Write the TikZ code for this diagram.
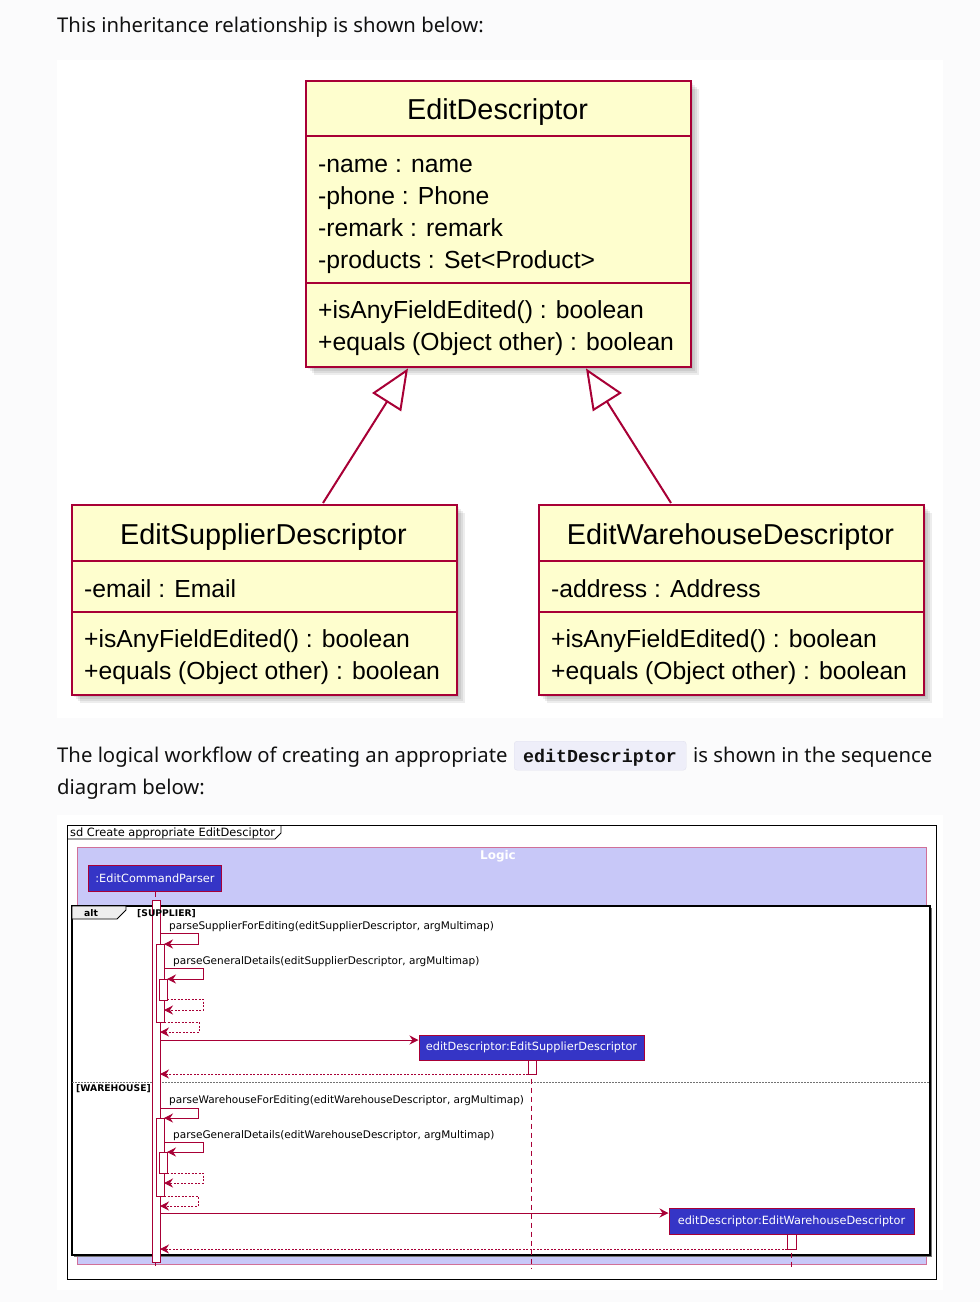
\documentclass[tikz,border=0pt]{standalone}
\usepackage{fontspec}
\setmainfont{Liberation Sans}
\newfontfamily\bodyfont{Noto Sans}
\newfontfamily\umlfont{Liberation Sans}
\newfontfamily\seqfont{DejaVu Sans}
\newfontfamily\codefont{Liberation Mono}
\usetikzlibrary{arrows.meta,calc}
\definecolor{crim}{HTML}{A80036}
\definecolor{classfill}{HTML}{FEFECE}
\definecolor{pagebg}{HTML}{FBFBFC}
\definecolor{partfill}{HTML}{3535C6}
\definecolor{logicfill}{HTML}{C8C8F8}
\definecolor{logicborder}{HTML}{D07098}
\definecolor{codebg}{HTML}{EEEEF9}
\definecolor{codeborder}{HTML}{E2E2EE}
\definecolor{alttab}{HTML}{EEEEEE}
\definecolor{bodytxt}{HTML}{111111}
\begin{document}
\begin{tikzpicture}[x=1pt,y=-1pt,
  bodytext/.style={anchor=base west,inner sep=0pt,text=bodytxt,font=\bodyfont\fontsize{20.3}{24}\selectfont},
  classbox/.style={draw=crim,line width=2.4pt,fill=classfill,anchor=north west,inner sep=0pt},
  umlsep/.style={draw=crim,line width=2.4pt},
  ctitle/.style={anchor=base,inner sep=0pt,font=\umlfont\fontsize{28.8}{30}\selectfont},
  cmember/.style={anchor=base west,inner sep=0pt,font=\umlfont\fontsize{24.7}{26}\selectfont},
  inherit/.style={draw=crim,line width=2pt,-{Triangle[length=40pt,width=34pt,fill=white,line join=miter]}},
  seqtxt/.style={anchor=base west,inner sep=0pt,font=\seqfont\fontsize{10.5}{12}\selectfont},
  seqbold/.style={anchor=base west,inner sep=0pt,font=\seqfont\bfseries\fontsize{9.2}{11}\selectfont},
  participant/.style={draw=crim,line width=1pt,fill=partfill,text=white,inner sep=0pt,font=\seqfont\fontsize{11.3}{13}\selectfont},
  lifeline/.style={draw=crim,line width=0.9pt,dash pattern=on 5pt off 4pt},
  actbar/.style={draw=crim,line width=0.9pt,fill=white},
  msg/.style={draw=crim,line width=0.9pt,-{Stealth[length=9pt,width=9pt,inset=3pt]}},
  ret/.style={draw=crim,line width=0.9pt,dash pattern=on 2pt off 1.5pt,-{Stealth[length=9pt,width=9pt,inset=3pt]}}
]
\useasboundingbox (0,0) rectangle (980,1302);
\fill[pagebg] (0,0) rectangle (980,1302);
\fill[white] (57,60) rectangle (943,718);

% ---------- paragraph 1
\node[bodytext] (p1) at (57,32) {This inheritance relationship is shown below:};

% ---------- class shadows
\foreach \d in {3,5,7,9}{
  \fill[black,opacity=0.07] (305+\d,80+\d) rectangle (690+\d,366+\d);
  \fill[black,opacity=0.07] (71+\d,504+\d) rectangle (456+\d,694+\d);
  \fill[black,opacity=0.07] (538+\d,504+\d) rectangle (923+\d,694+\d);
}

% ---------- EditDescriptor
\node[classbox,minimum width=385pt,minimum height=286pt] (ed) at (305,80) {};
\draw[umlsep] (305,136) -- (690,136);
\draw[umlsep] (305,283) -- (690,283);
\node[ctitle] (ed-t) at (497.5,119) {EditDescriptor};
\node[cmember] (ed-a1) at (318,172) {-name : name};
\node[cmember] (ed-a2) at (318,204) {-phone : Phone};
\node[cmember] (ed-a3) at (318,236) {-remark : remark};
\node[cmember] (ed-a4) at (318,268) {-products : Set<Product>};
\node[cmember] (ed-m1) at (318,318) {+isAnyFieldEdited() : boolean};
\node[cmember] (ed-m2) at (318,350) {+equals (Object other) : boolean};

% ---------- EditSupplierDescriptor
\node[classbox,minimum width=385pt,minimum height=190pt] (esd) at (71,504) {};
\draw[umlsep] (71,561) -- (456,561);
\draw[umlsep] (71,612) -- (456,612);
\node[ctitle] (esd-t) at (263.5,544) {EditSupplierDescriptor};
\node[cmember] (esd-a1) at (84,597) {-email : Email};
\node[cmember] (esd-m1) at (84,647) {+isAnyFieldEdited() : boolean};
\node[cmember] (esd-m2) at (84,679) {+equals (Object other) : boolean};

% ---------- EditWarehouseDescriptor
\node[classbox,minimum width=385pt,minimum height=190pt] (ewd) at (538,504) {};
\draw[umlsep] (538,561) -- (923,561);
\draw[umlsep] (538,612) -- (923,612);
\node[ctitle] (ewd-t) at (730.5,544) {EditWarehouseDescriptor};
\node[cmember] (ewd-a1) at (551,597) {-address : Address};
\node[cmember] (ewd-m1) at (551,647) {+isAnyFieldEdited() : boolean};
\node[cmember] (ewd-m2) at (551,679) {+equals (Object other) : boolean};

% ---------- inheritance arrows
\coordinate (inA1) at ($(esd.north west)+(252,-1)$);
\coordinate (inA2) at ($(ed.south west)+(103,0)$);
\coordinate (inB1) at ($(ewd.north west)+(133,-1)$);
\coordinate (inB2) at ($(ed.south west)+(281,0)$);
\draw[inherit] (inA1) -- (inA2);
\draw[inherit] (inB1) -- (inB2);

% ---------- paragraph 2
\node[draw=codeborder,fill=codebg,rounded corners=3pt,minimum width=172pt,minimum height=29pt,anchor=north west,inner sep=0pt] (codebox) at (514,741) {};
\node[anchor=base,inner sep=0pt,font=\codefont\bfseries\fontsize{18.3}{20}\selectfont,text=bodytxt] (code) at (600,762) {editDescriptor};
\node[bodytext] (p2a) at (57,762) {The logical workflow of creating an appropriate};
\node[bodytext] (p2b) at (693,762) {is shown in the sequence};
\node[bodytext] (p2c) at (57,794) {diagram below:};

% ---------- sequence diagram
\fill[white] (57,815) rectangle (943,1290);
\draw[black,line width=0.8pt,fill=white] (67,825) rectangle (936,1279);
\draw[black,line width=0.8pt] (67,839) -- (275,839) -- (281,833) -- (281,825);
\node[seqtxt,font=\seqfont\fontsize{11.4}{13}\selectfont] (sdtitle) at (70,836.5) {sd Create appropriate EditDesciptor};

\draw[draw=logicborder,line width=0.8pt,fill=logicfill] (77,847) rectangle (926,1264);
\node[anchor=base,inner sep=0pt,text=white,font=\seqfont\bfseries\fontsize{12}{13}\selectfont] (logic) at (498,859) {Logic};

% alt frame
\fill[black!55] (74,908) rectangle (932,1257);
\draw[black,line width=1.6pt,fill=white] (72,906) rectangle (930,1255);
\draw[black,line width=0.8pt,fill=alttab] (72,906) -- (126,906) -- (126,910) -- (117,919) -- (72,919) -- cycle;
\node[seqbold] (alt) at (84,916) {alt};
\draw[black!55,line width=0.6pt,dash pattern=on 1.5pt off 1.5pt] (72,1082) -- (930,1082);
\node[seqbold] (gw) at (76,1091) {[WAREHOUSE]};

% participants
\node[participant,minimum width=133pt,minimum height=26pt] (ecp) at (155,878) {:EditCommandParser};
\node[participant,minimum width=225pt,minimum height=25pt] (esdp) at (531.5,1047.5) {editDescriptor:EditSupplierDescriptor};
\node[participant,minimum width=245pt,minimum height=26pt] (ewdp) at (791.5,1221) {editDescriptor:EditWarehouseDescriptor};

% lifelines
\draw[lifeline] (ecp.south) -- ++(0,377);
\draw[lifeline] (esdp.south) -- ++(0,208);
\draw[lifeline] (ewdp.south) -- ++(0,35);

% activation bars
\draw[actbar] (152,900) rectangle (160,1262);
\draw[actbar] (156,944) rectangle (164,1022);
\draw[actbar] (159,979) rectangle (167,1000);
\draw[actbar] (156,1118) rectangle (164,1196);
\draw[actbar] (159,1152) rectangle (167,1173);
\draw[actbar] (528,1060) rectangle (536,1074);
\draw[actbar] (787,1234) rectangle (796,1249);

\node[seqbold] (gs) at (137,916) {[SUPPLIER]};

% supplier messages
\node[seqtxt] (l1) at (169,929) {parseSupplierForEditing(editSupplierDescriptor, argMultimap)};
\draw[msg] (160,933) -- (198,933) -- (198,944) -- (164,944);
\node[seqtxt] (l2) at (173,964) {parseGeneralDetails(editSupplierDescriptor, argMultimap)};
\draw[msg] (164,968) -- (203,968) -- (203,979) -- (167,979);
\draw[ret] (167,999) -- (203,999) -- (203,1010) -- (164,1010);
\draw[ret] (164,1022) -- (199,1022) -- (199,1032) -- (160,1032);
\coordinate (c5) at (160,1040);
\draw[msg] (c5) -- (c5 -| esdp.west);
\coordinate (r6) at (528,1074);
\draw[ret] (r6) -- (160,1074);

% warehouse messages
\node[seqtxt] (l3) at (169,1103) {parseWarehouseForEditing(editWarehouseDescriptor, argMultimap)};
\draw[msg] (160,1108) -- (198,1108) -- (198,1118) -- (164,1118);
\node[seqtxt] (l4) at (173,1138) {parseGeneralDetails(editWarehouseDescriptor, argMultimap)};
\draw[msg] (164,1142) -- (203,1142) -- (203,1152) -- (167,1152);
\draw[ret] (167,1173) -- (203,1173) -- (203,1183) -- (164,1183);
\draw[ret] (164,1196) -- (198,1196) -- (198,1206) -- (160,1206);
\coordinate (c7) at (160,1213);
\draw[msg] (c7) -- (c7 -| ewdp.west);
\coordinate (r8) at (787,1249);
\draw[ret] (r8) -- (160,1249);
\end{tikzpicture}
\end{document}
